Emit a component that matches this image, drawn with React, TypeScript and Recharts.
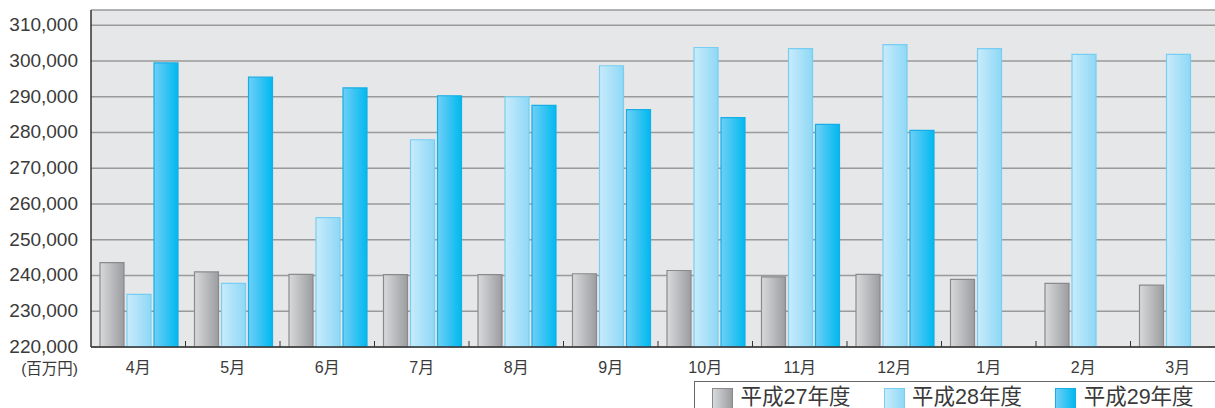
import { BarChart, Bar, XAxis, YAxis, CartesianGrid } from "recharts";

const months = ['4月', '5月', '6月', '7月', '8月', '9月', '10月', '11月', '12月', '1月', '2月', '3月'];

// 平成27年度 / 平成28年度 / 平成29年度 (百万円)
const h27 = [243600, 241000, 240300, 240250, 240250, 240500, 241400, 239600, 240300, 238900, 237800, 237300];
const h28 = [234700, 237800, 256200, 278000, 290000, 298700, 303800, 303500, 304600, 303500, 301900, 301900];
const h29 = [299500, 295500, 292500, 290300, 287600, 286450, 284200, 282300, 280600, null, null, null];

const yTicks = [220000, 230000, 240000, 250000, 260000, 270000, 280000, 290000, 300000, 310000];

const series = [
  { key: 'h27', name: '平成27年度', from: '#d8d9db', to: '#9c9da0', stroke: '#8a8a8c' },
  { key: 'h28', name: '平成28年度', from: '#c8ebfb', to: '#8ed8f6', stroke: '#78cef1' },
  { key: 'h29', name: '平成29年度', from: '#6fcff7', to: '#00b9ef', stroke: '#16aee6' },
];

const data = months.map((m, i) => ({ month: m, h27: h27[i], h28: h28[i], h29: h29[i] }));

const font = '"Liberation Sans", "Noto Sans CJK JP", sans-serif';

const MonthTick = (props: any) => {
  const { x, y, payload, index } = props;
  const half = payload && payload.offset ? payload.offset : 47.25;
  return (
    <g>
      {index > 0 && (
        <line x1={x - half} x2={x - half} y1={y} y2={y - 6} stroke="#333" strokeWidth={1} />
      )}
      <text x={x} y={y + 26} textAnchor="middle" fontSize={16} fill="#3a3a3a" fontFamily={font}>
        {payload.value}
      </text>
    </g>
  );
};

const UnitLabel = (props: any) => {
  const vb = props.viewBox || {};
  return (
    <text x={vb.x + vb.width - 13} y={vb.y + vb.height + 27} textAnchor="end" fontSize={15.5} fill="#3a3a3a" fontFamily={font}>
      (百万円)
    </text>
  );
};

export default function App() {
  return (
    <div style={{ position: 'absolute', left: 0, top: 0, width: 1215, height: 408, overflow: 'hidden', background: '#fff' }}>
      <BarChart
        width={1230}
        height={408}
        data={data}
        margin={{ top: 10, right: 5, left: 0, bottom: 31 }}
        barCategoryGap={9}
        barGap={3}
      >
        <defs>
          {series.map(s => (
            <linearGradient key={s.key} id={`grad-${s.key}`} x1="0" y1="0" x2="1" y2="0">
              <stop offset="0%" stopColor={s.from} />
              <stop offset="100%" stopColor={s.to} />
            </linearGradient>
          ))}
        </defs>
        <CartesianGrid vertical={false} fill="#e6e7e9" stroke="#9a9a9a" strokeWidth={1.5} />
        <XAxis
          dataKey="month"
          height={30}
          axisLine={{ stroke: '#333', strokeWidth: 1.5 }}
          tickLine={false}
          tickSize={0}
          tickMargin={0}
          tick={<MonthTick />}
          interval={0}
        />
        <YAxis
          width={91}
          domain={[220000, 314300]}
          allowDataOverflow
          ticks={yTicks}
          interval={0}
          tickFormatter={(v: number) => v.toLocaleString('en-US')}
          axisLine={{ stroke: '#333', strokeWidth: 1.5 }}
          tickLine={false}
          tickSize={0}
          tickMargin={13}
          tick={{ fontSize: 19, fill: '#3a3a3a', fontFamily: font, dy: -1 }}
          label={{ content: <UnitLabel /> }}
        />
        {series.map(s => (
          <Bar
            key={s.key}
            dataKey={s.key}
            name={s.name}
            fill={`url(#grad-${s.key})`}
            stroke={s.stroke}
            strokeWidth={1.2}
            isAnimationActive={false}
          />
        ))}
      </BarChart>
      <div
        style={{
          position: 'absolute',
          left: 694,
          top: 381,
          width: 600,
          height: 40,
          borderTop: '1px solid #666',
          borderLeft: '1px solid #666',
          display: 'flex',
          alignItems: 'flex-start',
          paddingTop: 5,
          paddingLeft: 17,
          boxSizing: 'border-box',
          fontFamily: font,
        }}
      >
        {series.map(s => (
          <div key={s.key} style={{ display: 'flex', alignItems: 'flex-start', width: 171.6 }}>
            <div
              style={{
                width: 19,
                height: 21,
                marginTop: 1,
                background: `linear-gradient(to right, ${s.from}, ${s.to})`,
                border: `1px solid ${s.stroke}`,
                marginRight: 7.5,
                flexShrink: 0,
              }}
            />
            <span style={{ fontSize: 21.5, lineHeight: '20px', color: '#3a3a3a', whiteSpace: 'nowrap' }}>{s.name}</span>
          </div>
        ))}
      </div>
    </div>
  );
}
